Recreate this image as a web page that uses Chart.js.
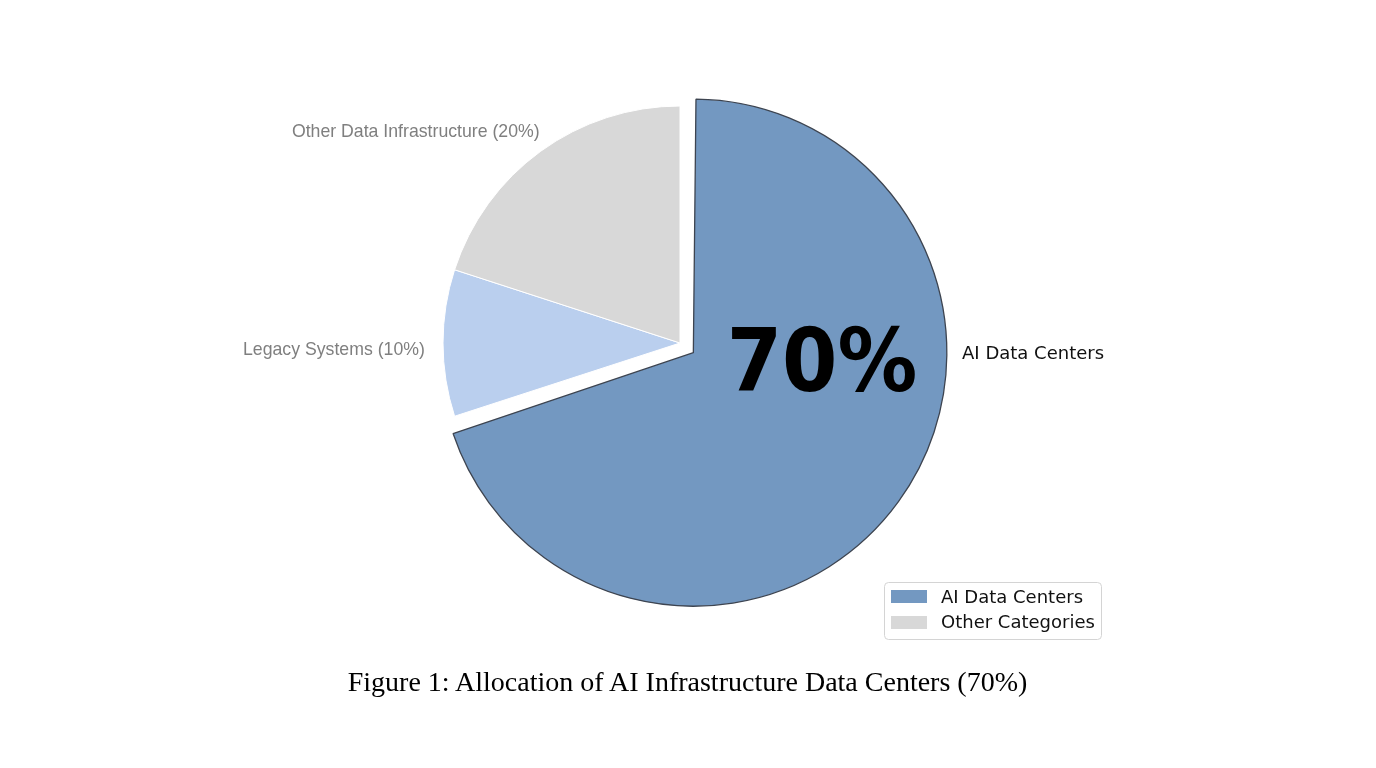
<!DOCTYPE html>
<html>
<head>
<meta charset="utf-8">
<script src="https://cdn.jsdelivr.net/npm/chart.js@4/dist/chart.umd.min.js"></script>
<style>
  html, body { margin: 0; padding: 0; background: #fff; }
  #wrap { position: relative; width: 1376px; height: 768px; overflow: hidden; }
  #myChart { position: absolute; left: 0; top: 0; }
  #caption {
    position: absolute; left: 0; top: 668px; width: 1375px;
    text-align: center; font: 28px/28px "Liberation Serif", "Times New Roman", serif; color: #000;
  }
</style>
</head>
<body>
<div id="wrap">
  <canvas id="myChart" width="1376" height="768"></canvas>
  <div id="caption">Figure 1: Allocation of AI Infrastructure Data Centers (70%)</div>
</div>
<script>
// data
const categories = ['AI Data Centers', 'Legacy Systems', 'Other Data Infrastructure']
const shares = [70, 10, 20]
const sliceLabels = ['AI Data Centers', 'Legacy Systems (10%)', 'Other Data Infrastructure (20%)']
const bigLabel = '70%'
const legendLabels = ['AI Data Centers', 'Other Categories']

// styling
const fills = ['#7398c1', '#bacfee', '#d8d8d8']
const edges = ['#3d4450', '#ffffff', '#ffffff']
const legendFills = ['#7398c1', '#d8d8d8']
// label placement: angle (deg, canvas) and distance as share of radius, plus align
const labelAt = [
  { a: 2.2, d: 1.191, align: 'left', font: '18px "DejaVu Sans"', color: '#111' },
  { a: 178.3, d: 1.077, align: 'right', font: '17.7px "Liberation Sans"', color: '#7f7f7f' },
  { a: 236.4, d: 1.07, align: 'right', font: '17.7px "Liberation Sans"', color: '#7f7f7f' }
]

const pieText = {
  id: 'pieText',
  afterDatasetsDraw(chart) {
    const c = chart.ctx
    const arcs = chart.getDatasetMeta(0).data
    const x0 = arcs[0].x, y0 = arcs[0].y, r = arcs[1].outerRadius
    c.save()
    c.textBaseline = 'middle'
    sliceLabels.forEach((t, i) => {
      const p = labelAt[i], ang = p.a * Math.PI / 180
      c.font = p.font
      c.fillStyle = p.color
      c.textAlign = p.align
      c.fillText(t, x0 + Math.cos(ang) * p.d * r, y0 + Math.sin(ang) * p.d * r)
    })
    // big share inside the AI slice
    c.textBaseline = 'alphabetic'
    c.textAlign = 'center'
    c.font = 'bold 88px "DejaVu Sans"'
    c.fillStyle = '#000'
    c.translate(x0 + 0.599 * r, y0 + 0.203 * r)
    c.scale(0.905, 1)
    c.fillText(bigLabel, 0, 0)
    c.restore()

    // legend box, bottom right
    c.save()
    c.beginPath()
    c.roundRect(884.5, 582.5, 217, 57, 4)
    c.fillStyle = '#fff'
    c.fill()
    c.strokeStyle = '#d4d4d4'
    c.lineWidth = 1
    c.stroke()
    c.font = '18px "DejaVu Sans"'
    c.textAlign = 'left'
    c.textBaseline = 'alphabetic'
    legendLabels.forEach((t, i) => {
      c.fillStyle = legendFills[i]
      c.fillRect(891, 590 + i * 26, 36, 13)
      c.fillStyle = '#111'
      c.fillText(t, 941, 603 + i * 25)
    })
    c.restore()
  }
}

new Chart(document.getElementById('myChart'), {
  type: 'pie',
  data: {
    labels: categories,
    datasets: [{
      data: shares,
      backgroundColor: fills,
      borderColor: edges,
      borderWidth: [1.3, 1, 1],
      offset: [66, 0, 0],
      hoverOffset: 0,
      radius: 237
    }]
  },
  options: {
    responsive: false,
    animation: false,
    layout: { padding: { left: 20, right: 36, top: 20, bottom: 102 } },
    plugins: { legend: { display: false }, tooltip: { enabled: false } }
  },
  plugins: [pieText]
})
</script>
</body>
</html>
